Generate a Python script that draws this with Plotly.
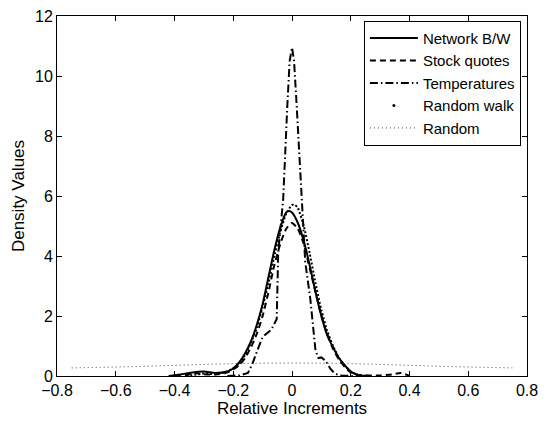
import plotly.graph_objects as go

# ---- data ----
net_x = [-0.42, -0.38, -0.34, -0.30, -0.26, -0.22, -0.20, -0.18, -0.16, -0.14, -0.12, -0.10, -0.08,
         -0.06, -0.04, -0.02, -0.01, 0.00, 0.02, 0.04, 0.06, 0.08, 0.10, 0.12, 0.14, 0.16, 0.18,
         0.20, 0.22, 0.24, 0.26]
net_y = [0.0, 0.05, 0.12, 0.15, 0.10, 0.15, 0.25, 0.45, 0.75, 1.15, 1.7, 2.4, 3.3,
         4.2, 4.95, 5.45, 5.5, 5.45, 5.1, 4.5, 3.7, 2.8, 2.0, 1.35, 0.95, 0.6, 0.35,
         0.15, 0.05, 0.01, 0.0]

stock_x = [-0.40, -0.36, -0.33, -0.30, -0.26, -0.22, -0.18, -0.16, -0.14, -0.12, -0.10, -0.08,
           -0.06, -0.04, -0.02, 0.00, 0.02, 0.04, 0.06, 0.08, 0.10, 0.12, 0.14, 0.16, 0.18,
           0.20, 0.22, 0.26, 0.30, 0.34, 0.37, 0.40]
stock_y = [0.0, 0.03, 0.1, 0.06, 0.05, 0.12, 0.35, 0.6, 0.95, 1.4, 2.0, 2.8,
           3.7, 4.4, 4.9, 5.1, 4.9, 4.4, 3.6, 2.8, 2.0, 1.4, 0.9, 0.55, 0.3,
           0.12, 0.04, 0.02, 0.02, 0.05, 0.1, 0.0]

temp_x = [-0.22, -0.18, -0.15, -0.135, -0.12, -0.10, -0.07, -0.052, -0.047, -0.04, -0.03, -0.016,
          -0.008, 0.0, 0.007, 0.016, 0.033, 0.045, 0.062, 0.07, 0.08, 0.09, 0.10, 0.115, 0.13,
          0.145, 0.17, 0.22]
temp_y = [0.0, 0.02, 0.1, 0.4, 0.8, 1.3, 1.55, 1.9, 4.1, 4.8, 5.9, 9.0,
          10.5, 10.95, 10.5, 9.0, 5.74, 3.8, 2.6, 1.8, 0.85, 0.6, 0.62, 0.5, 0.25,
          0.08, 0.01, 0.0]

rw_x = [-0.36, -0.30, -0.26, -0.22, -0.18, -0.16, -0.14, -0.12, -0.10, -0.08, -0.06, -0.04, -0.02,
        0.00, 0.01, 0.02, 0.04, 0.06, 0.08, 0.10, 0.12, 0.14, 0.16, 0.18, 0.20, 0.22, 0.26]
rw_y = [0.0, 0.08, 0.06, 0.15, 0.4, 0.7, 1.1, 1.6, 2.3, 3.1, 4.0, 4.8, 5.4,
        5.7, 5.7, 5.6, 5.0, 4.1, 3.1, 2.2, 1.5, 1.0, 0.6, 0.35, 0.15, 0.05, 0.0]

rand_x = [-0.75, -0.65, -0.55, -0.45, -0.35, -0.25, -0.15, -0.05, 0.05, 0.15, 0.25, 0.35,
          0.45, 0.55, 0.65, 0.75]
rand_y = [0.27, 0.29, 0.31, 0.34, 0.37, 0.40, 0.42, 0.43, 0.43, 0.42, 0.40, 0.37,
          0.34, 0.31, 0.29, 0.27]

x_ticks = [-0.8, -0.6, -0.4, -0.2, 0, 0.2, 0.4, 0.6, 0.8]
x_labels = ["\u22120.8", "\u22120.6", "\u22120.4", "\u22120.2", "0", "0.2", "0.4", "0.6", "0.8"]
y_ticks = [0, 2, 4, 6, 8, 10, 12]

FONT = "Liberation Sans, Arial, Helvetica, sans-serif"

fig = go.Figure()
fig.add_trace(go.Scatter(x=net_x, y=net_y, mode="lines", name="Network B/W",
                         line=dict(color="black", width=2, shape="spline", smoothing=0.6)))
fig.add_trace(go.Scatter(x=stock_x, y=stock_y, mode="lines", name="Stock quotes",
                         line=dict(color="black", width=2, dash="6px,4px", shape="spline", smoothing=0.6)))
fig.add_trace(go.Scatter(x=temp_x, y=temp_y, mode="lines", name="Temperatures",
                         line=dict(color="black", width=2, dash="8px,3px,1.5px,3px")))
# Random walk: data drawn as a dotted line, legend shows a single dot
fig.add_trace(go.Scatter(x=rw_x, y=rw_y, mode="lines", name="Random walk", showlegend=False,
                         legendgroup="rw",
                         line=dict(color="black", width=2, dash="2px,2px", shape="spline", smoothing=0.6)))
fig.add_trace(go.Scatter(x=[None], y=[None], mode="markers", name="Random walk",
                         legendgroup="rw", marker=dict(color="black", size=3)))
fig.add_trace(go.Scatter(x=rand_x, y=rand_y, mode="lines", name="Random",
                         line=dict(color="#444444", width=1, dash="1px,3px", shape="spline")))

axis_common = dict(showgrid=False, zeroline=False, showline=True, mirror="ticks",
                   linecolor="black", linewidth=1, ticks="inside", ticklen=5,
                   tickcolor="black", ticklabeloverflow="allow",
                   tickfont=dict(family=FONT, size=16, color="black"))

fig.update_layout(
    width=553, height=424,
    margin=dict(l=57, r=26, t=8, b=48),
    paper_bgcolor="white", plot_bgcolor="white",
    font=dict(family=FONT, size=16, color="black"),
    xaxis=dict(range=[-0.8, 0.8], tickvals=x_ticks, ticktext=x_labels, ticklabelstandoff=0,
               title=dict(text="Relative Increments", font=dict(family=FONT, size=17), standoff=3),
               **axis_common),
    yaxis=dict(range=[0, 12], tickvals=y_ticks,
               title=dict(text="Density Values", font=dict(family=FONT, size=17), standoff=6),
               **axis_common),
    legend=dict(x=0.987, y=0.987, xanchor="right", yanchor="top",
                bgcolor="white", bordercolor="black", borderwidth=1,
                font=dict(family=FONT, size=15), tracegroupgap=0,
                itemwidth=48),
    showlegend=True,
)

fig.write_html("out.html", config={"displayModeBar": False},
               post_script="document.body.style.margin='0';document.body.style.overflow='hidden';")
